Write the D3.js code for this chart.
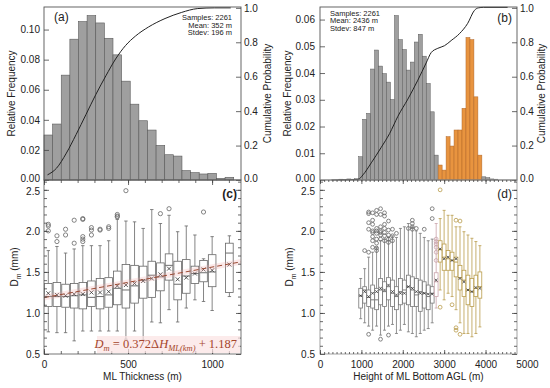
<!DOCTYPE html>
<html><head><meta charset="utf-8">
<script src="https://cdn.jsdelivr.net/npm/d3@7"></script>
<style>
body{margin:0;background:#fff}
svg text{font-family:"Liberation Sans",Arial,Helvetica,sans-serif;fill:#222}
</style>
</head><body>
<svg id="chart" width="550" height="388"></svg>
<script>
// ---------------- DATA ----------------
// Panel (a): ML thickness histogram (bin width ~51.3 m starting at 0)
const histA_binWidth = 51.3;
const histA_freq = [0.0299,0.0372,0.0697,0.0936,0.1053,0.1093,0.1044,0.0942,0.0832,0.0657,0.0504,0.0394,0.0332,0.0230,0.0168,0.0159,0.0062,0.0049,0.0040,0.0044,0.0011,0.0018];
const cumA_x = [21,74,133,191,250,309,368,426,485,544,622,720,817,915,1013,1111];
const cumA_p = [0.03,0.068,0.156,0.264,0.381,0.498,0.605,0.703,0.781,0.836,0.889,0.938,0.973,0.996,1.0,1.0];
const statsA = ["Samples: 2261","Mean: 352 m","Stdev: 196 m"];

// Panel (b): height of ML bottom histogram (bin width ~96 m, first main bin at 935 m)
const histB_binStart = 935, histB_binWidth = 96;
const histB_leftTail = [0.0003,0.0002,0.0004,0.0003,0.0005];        // bins -5..-1
const histB_gray = [0.0087,0.0227,0.0249,0.0415,0.0486,0.0426,0.0398,0.0366,0.0301,0.0615,0.0525,0.0488,0.0411,0.0441,0.0516,0.0545,0.0463,0.0361,0.0255,0.0093];
const histB_orange = [0.0056,0.0037,0.0162,0.0127,0.0187,0.0187,0.0268,0.0533,0.0525,0.0311,0.0093];
const histB_rightTail = [0.0012,0.0009,0.0004,0.0003];
const cumB_x = [277,918,1039,1240,1481,1682,1882,2123,2364,2565,2686,2846,3007,3169,3369,3569,3730,3827,3950,4533];
const cumB_p = [0,0.003,0.03,0.10,0.19,0.27,0.37,0.47,0.58,0.68,0.74,0.765,0.78,0.81,0.85,0.91,0.985,1.0,1.003,1.003];
const statsB = ["Samples: 2261","Mean: 2436 m","Stdev: 847 m"];

// Panel (c): Dm box plots per ML-thickness bin (index into 51.3 m bins)
const boxC_bin  = [0,1,2,3,4,5,6,7,8,9,10,11,12,13,14,15,16,17,18,19,21];
const boxC_wlo  = [0.77,0.76,0.76,0.66,0.78,0.78,0.78,0.78,0.78,0.68,0.78,0.67,0.89,0.88,1.04,0.89,1.06,1.16,1.14,1.03,1.20];
const boxC_q1   = [1.08,1.08,1.07,1.06,1.05,1.08,1.05,1.07,1.10,1.06,1.12,1.18,1.19,1.27,1.40,1.16,1.24,1.36,1.38,1.32,1.25];
const boxC_med  = [1.20,1.20,1.20,1.21,1.22,1.19,1.20,1.22,1.30,1.28,1.33,1.40,1.46,1.44,1.58,1.35,1.45,1.48,1.49,1.50,1.73];
const boxC_q3   = [1.36,1.37,1.35,1.36,1.37,1.39,1.42,1.43,1.51,1.59,1.58,1.57,1.63,1.61,1.72,1.63,1.65,1.57,1.64,1.71,1.85];
const boxC_whi  = [1.76,1.81,1.73,1.78,1.82,1.82,1.82,1.88,2.14,2.12,2.11,2.03,2.26,2.09,2.19,1.99,2.06,1.95,1.66,1.93,1.94];
const boxC_mean = [1.24,1.22,1.21,1.23,1.23,1.25,1.25,1.26,1.33,1.34,1.36,1.39,1.42,1.47,1.54,1.41,1.43,1.48,1.53,1.52,1.59];
const outC_bin = [0,0,0,1,1,2,2,3,3,4,4,4,4,4,5,5,5,6,6,7,7,8,8,8,9,13,14,18];
const outC_val = [2.08,2.06,2.00,1.94,1.87,2.02,1.95,2.13,1.85,2.15,2.14,1.93,1.90,1.87,2.04,2.01,1.95,2.02,2.01,2.05,2.03,2.20,2.18,2.17,2.49,2.21,2.27,2.23];
const fitSlope = 0.372, fitIntercept = 1.187;   // Dm = 0.372*dH(km) + 1.187

// Panel (d): Dm box plots per ML-bottom-height bin (index into 96 m bins from 935 m)
const boxD_bin   = [0,1,2,3,4,5,6,7,8,9,10,11,12,13,14,15,16,17,18,19,20,21,22,23,24,25,26,27,28,29,30];
const boxD_group = ["g","g","g","g","g","g","g","g","g","g","g","g","g","g","g","g","g","g","g","t","o","o","o","o","o","o","o","o","o","o","o"];
const boxD_wlo  = [0.93,0.88,0.84,0.79,0.84,0.73,0.79,0.84,0.86,0.75,0.79,0.86,0.77,0.75,0.71,0.75,0.79,0.81,0.88,1.06, 1.28,1.16,1.24,1.20,1.04,0.88,0.75,0.75,0.71,0.75,0.83];
const boxD_q1   = [1.06,1.12,1.08,1.06,1.04,1.10,1.08,1.16,1.08,1.04,1.10,1.12,1.10,1.08,1.08,1.02,1.06,1.04,1.12,1.20, 1.62,1.52,1.52,1.52,1.44,1.28,1.20,1.10,1.08,1.20,1.18];
const boxD_med  = [1.21,1.28,1.19,1.16,1.16,1.28,1.26,1.32,1.24,1.20,1.26,1.28,1.32,1.28,1.22,1.26,1.24,1.20,1.24,1.38, 1.77,1.68,1.66,1.64,1.62,1.43,1.40,1.28,1.26,1.30,1.32];
const boxD_q3   = [1.30,1.32,1.28,1.34,1.30,1.42,1.38,1.43,1.40,1.32,1.42,1.40,1.46,1.44,1.42,1.40,1.38,1.34,1.32,1.49, 1.88,1.84,1.76,1.74,1.68,1.58,1.52,1.46,1.42,1.46,1.50];
const boxD_whi  = [1.42,1.54,1.68,1.74,1.80,1.88,1.90,1.92,1.94,1.92,2.03,2.05,2.09,2.05,2.00,1.97,1.92,1.88,1.90,2.09, 2.15,2.25,2.19,2.19,2.05,2.05,1.99,1.95,1.91,1.87,1.82];
const boxD_mean = [1.21,1.26,1.20,1.24,1.26,1.30,1.28,1.34,1.26,1.22,1.24,1.24,1.32,1.30,1.26,1.24,1.24,1.23,1.23,1.40, 1.78,1.66,1.68,1.64,1.66,1.42,1.38,1.28,1.26,1.31,1.30];
const outD_bin = [1,2,2,2,2,2,2,3,3,3,3,3,3,3,3,4,4,4,4,4,4,4,4,4,5,5,5,5,5,5,5,5,6,6,6,6,6,6,6,7,7,7,7,7,7,8,8,8,9,12,13,13,13,13,14,16,18,18,19,19,19,19,19,19,20,20,23,24,24,24,25,25];
const outD_val = [1.76,1.74,2.23,2.21,2.10,2.02,0.74,2.22,2.13,2.08,2.00,1.98,1.93,1.88,1.80,2.25,2.20,2.03,2.00,1.97,1.90,1.85,1.79,1.76,2.27,2.20,2.05,2.00,1.98,1.95,1.90,0.68,2.22,2.18,2.08,2.03,1.98,1.94,1.88,2.12,2.01,1.95,1.90,1.86,0.73,2.02,1.94,1.88,1.97,2.03,2.13,2.09,2.05,2.02,2.03,2.02,2.27,2.15,1.90,1.87,1.84,1.80,1.74,1.64,2.50,1.07,1.10,2.13,0.82,0.79,2.12,0.74];

// tick labels
const ticksA_y = [0,0.02,0.04,0.06,0.08,0.10];
const ticksB_y = [0,0.01,0.02,0.03,0.04,0.05,0.06];
const ticksCum = [0,0.2,0.4,0.6,0.8,1.0];
const ticksC_x = [0,500,1000];
const ticksD_x = [0,1000,2000,3000,4000,5000];
const ticksDm = [0.5,1.0,1.5,2.0,2.5];

// ---------------- LAYOUT ----------------
const svg = d3.select("#chart");
const A = {l:44, r:241, t:7, b:180};
const C = {l:44, r:241, t:180, b:354};
const B = {l:320, r:517, t:7, b:180};
const D = {l:320, r:517, t:180, b:354};

const xA = d3.scaleLinear().domain([0,1172]).range([A.l,A.r]);
const yA = d3.scaleLinear().domain([0,0.115]).range([A.b,A.t]);
const yCumA = d3.scaleLinear().domain([0,1.005]).range([A.b,A.t]);
const xB = d3.scaleLinear().domain([0,4760]).range([B.l,B.r]);
const yB = d3.scaleLinear().domain([0,0.0647]).range([B.b,B.t]);
const yCumB = d3.scaleLinear().domain([0,1.005]).range([B.b,B.t]);
const yC = d3.scaleLinear().domain([0.5,2.62]).range([C.b,C.t]);
const yD = yC.copy();

const fs = 10;
const intFmt = d3.format("d");
function styleAxis(g){ g.selectAll("path.domain").remove(); g.selectAll(".tick line").attr("stroke","#444").attr("stroke-width",0.8);
  g.selectAll("text").attr("font-size",fs).attr("fill","#222"); return g; }
function frame(P, color, dash){ svg.append("rect").attr("x",P.l).attr("y",P.t).attr("width",P.r-P.l).attr("height",P.b-P.t)
  .attr("fill","none").attr("stroke",color).attr("stroke-width",0.9).attr("stroke-dasharray",dash||null); }
function range(a,b,s){ const o=[]; for(let v=a; v<=b+1e-9; v+=s) o.push(+v.toFixed(6)); return o; }

// ---------------- PANEL (a) ----------------
svg.append("g").selectAll("rect").data(histA_freq).join("rect")
  .attr("x",(d,i)=>xA(i*histA_binWidth)).attr("width",(d,i)=>xA((i+1)*histA_binWidth)-xA(i*histA_binWidth))
  .attr("y",d=>yA(d)).attr("height",d=>yA(0)-yA(d))
  .attr("fill","#9f9f9f").attr("stroke","#5a5a5a").attr("stroke-width",0.6);
svg.append("path").datum(cumA_x.map((x,i)=>[x,cumA_p[i]]))
  .attr("d",d3.line().x(d=>xA(d[0])).y(d=>yCumA(d[1])).curve(d3.curveMonotoneX))
  .attr("fill","none").attr("stroke","#222").attr("stroke-width",1);
frame(A,"#555");
const axAL = styleAxis(svg.append("g").attr("transform",`translate(${A.l},0)`).call(d3.axisLeft(yA).tickValues(ticksA_y).tickFormat(d3.format(".2f")).tickSize(-5).tickPadding(4)));
axAL.selectAll(".tick").filter(d=>d===0).select("text").attr("dy","0.1em");
const axAR = styleAxis(svg.append("g").attr("transform",`translate(${A.r},0)`).call(d3.axisRight(yCumA).tickValues(ticksCum).tickFormat(d3.format(".1f")).tickSize(-5).tickPadding(3)));
axAR.selectAll(".tick").filter(d=>d===0).select("text").attr("dy","0.1em");
statsA.forEach((s,i)=>svg.append("text").attr("x",232).attr("y",20+i*7.6).attr("text-anchor","end").attr("font-size",7.5).text(s));
svg.append("text").attr("x",54).attr("y",21).attr("font-size",12).text("(a)");
svg.append("text").attr("transform",`translate(15,${(A.t+A.b)/2}) rotate(-90)`).attr("text-anchor","middle").attr("font-size",fs).text("Relative Frequency");
svg.append("text").attr("transform",`translate(271,${(A.t+A.b)/2}) rotate(-90)`).attr("text-anchor","middle").attr("font-size",fs).text("Cumulative Probability");

// ---------------- PANEL (b) ----------------
const gB = svg.append("g");
function barsB(vals, k0, fill, stroke){
  gB.append("g").selectAll("rect").data(vals).join("rect")
   .attr("x",(d,i)=>xB(histB_binStart+(k0+i)*histB_binWidth))
   .attr("width",(d,i)=>xB(histB_binStart+(k0+i+1)*histB_binWidth)-xB(histB_binStart+(k0+i)*histB_binWidth))
   .attr("y",d=>yB(d)).attr("height",d=>yB(0)-yB(d))
   .attr("fill",fill).attr("stroke",stroke).attr("stroke-width",0.5);
}
barsB(histB_leftTail,-histB_leftTail.length,"#9f9f9f","#666");
barsB(histB_gray,0,"#9f9f9f","#5a5a5a");
barsB(histB_orange,histB_gray.length,"#e8943f","#b0672a");
barsB(histB_rightTail,histB_gray.length+histB_orange.length,"#9f9f9f","#666");
svg.append("path").datum(cumB_x.map((x,i)=>[x,cumB_p[i]]))
  .attr("d",d3.line().x(d=>xB(d[0])).y(d=>yCumB(d[1])).curve(d3.curveMonotoneX))
  .attr("fill","none").attr("stroke","#222").attr("stroke-width",1);
frame(B,"#555");
const axBL = styleAxis(svg.append("g").attr("transform",`translate(${B.l},0)`).call(d3.axisLeft(yB).tickValues(ticksB_y).tickFormat(d3.format(".2f")).tickSize(-5).tickPadding(5)));
axBL.selectAll(".tick").filter(d=>d===0).select("text").attr("dy","0.1em");
const axBR = styleAxis(svg.append("g").attr("transform",`translate(${B.r},0)`).call(d3.axisRight(yCumB).tickValues(ticksCum).tickFormat(d3.format(".1f")).tickSize(-5).tickPadding(3)));
axBR.selectAll(".tick").filter(d=>d===0).select("text").attr("dy","0.1em");
statsB.forEach((s,i)=>svg.append("text").attr("x",330).attr("y",15.5+i*7.6).attr("font-size",7.5).text(s));
svg.append("text").attr("x",512).attr("y",21.5).attr("text-anchor","end").attr("font-size",12).text("(b)");
svg.append("text").attr("transform",`translate(291,${(B.t+B.b)/2}) rotate(-90)`).attr("text-anchor","middle").attr("font-size",fs).text("Relative Frequency");
svg.append("text").attr("transform",`translate(545,${(B.t+B.b)/2}) rotate(-90)`).attr("text-anchor","middle").attr("font-size",fs).text("Cumulative Probability");

// ---------------- box helper ----------------
function drawBox(g, x, y, lo, q1, med, q3, hi, mean, hw, col, sw){
  const cap = Math.max(1.5, hw*0.45);
  g.append("line").attr("x1",x).attr("x2",x).attr("y1",y(lo)).attr("y2",y(q1)).attr("stroke",col).attr("stroke-width",sw);
  g.append("line").attr("x1",x).attr("x2",x).attr("y1",y(q3)).attr("y2",y(hi)).attr("stroke",col).attr("stroke-width",sw);
  g.append("line").attr("x1",x-cap).attr("x2",x+cap).attr("y1",y(lo)).attr("y2",y(lo)).attr("stroke",col).attr("stroke-width",sw);
  g.append("line").attr("x1",x-cap).attr("x2",x+cap).attr("y1",y(hi)).attr("y2",y(hi)).attr("stroke",col).attr("stroke-width",sw);
  g.append("rect").attr("x",x-hw).attr("y",y(q3)).attr("width",2*hw).attr("height",y(q1)-y(q3))
    .attr("fill","#fff").attr("fill-opacity",0.85).attr("stroke",col).attr("stroke-width",sw);
  g.append("line").attr("x1",x-hw).attr("x2",x+hw).attr("y1",y(med)).attr("y2",y(med)).attr("stroke",col).attr("stroke-width",sw*1.2);
  const m=y(mean), s=Math.min(2,hw*0.7);
  g.append("path").attr("d",`M${x-s},${m-s}L${x+s},${m+s}M${x-s},${m+s}L${x+s},${m-s}`).attr("stroke","#333").attr("stroke-width",0.8);
}

// ---------------- PANEL (c) ----------------
const gC = svg.append("g");
boxC_bin.forEach((b,i)=>{
  const x = xA((b+0.5)*histA_binWidth);
  drawBox(gC, x, yC, boxC_wlo[i], boxC_q1[i], boxC_med[i], boxC_q3[i], boxC_whi[i], boxC_mean[i], 3.8, "#666", 0.8);
});
gC.append("g").selectAll("circle").data(outC_bin).join("circle")
  .attr("cx",d=>xA((d+0.5)*histA_binWidth)).attr("cy",(d,i)=>yC(outC_val[i])).attr("r",2.1)
  .attr("fill","none").attr("stroke","#666").attr("stroke-width",0.8);
// fit band and line
const fitX = [0,1172];
const band = d3.area().x(d=>xA(d)).y0(d=>yC(fitSlope*d/1000+fitIntercept-0.035)).y1(d=>yC(fitSlope*d/1000+fitIntercept+0.035));
gC.append("path").datum(fitX).attr("d",band).attr("fill","#f0a8a8").attr("opacity",0.25);
gC.append("path").datum(fitX).attr("d",d3.line().x(d=>xA(d)).y(d=>yC(fitSlope*d/1000+fitIntercept)))
  .attr("stroke","#9c4a33").attr("stroke-width",1).attr("stroke-dasharray","5,3").attr("fill","none");
frame(C,"#666");
styleAxis(svg.append("g").attr("transform",`translate(0,${C.t})`).call(d3.axisTop(xA).tickValues(ticksC_x).tickSize(-5).tickFormat("")));
styleAxis(svg.append("g").attr("transform",`translate(0,${C.t})`).call(d3.axisTop(xA).tickValues(range(0,1100,100)).tickSize(-3).tickFormat("")));
styleAxis(svg.append("g").attr("transform",`translate(0,${C.b})`).call(d3.axisBottom(xA).tickValues(ticksC_x).tickFormat(intFmt).tickSize(-5).tickPadding(7)));
styleAxis(svg.append("g").attr("transform",`translate(0,${C.b})`).call(d3.axisBottom(xA).tickValues(range(0,1100,100)).tickSize(-3).tickFormat("")));
const axCL = styleAxis(svg.append("g").attr("transform",`translate(${C.l},0)`).call(d3.axisLeft(yC).tickValues(ticksDm).tickFormat(d3.format(".1f")).tickSize(-5).tickPadding(4)));
axCL.selectAll(".tick").filter(d=>d===2.5).select("text").attr("dy","0.45em");
styleAxis(svg.append("g").attr("transform",`translate(${C.l},0)`).call(d3.axisLeft(yC).tickValues(range(0.6,2.6,0.1)).tickSize(-3).tickFormat("")));
styleAxis(svg.append("g").attr("transform",`translate(${C.r},0)`).call(d3.axisRight(yC).tickValues(ticksDm).tickSize(-5).tickFormat("")));
styleAxis(svg.append("g").attr("transform",`translate(${C.r},0)`).call(d3.axisRight(yC).tickValues(range(0.6,2.6,0.1)).tickSize(-3).tickFormat("")));
svg.append("text").attr("x",237).attr("y",198).attr("text-anchor","end").attr("font-size",12).attr("font-weight","bold").text("(c)");
// equation
svg.append("rect").attr("x",97).attr("y",336).attr("width",143).attr("height",17).attr("fill","#fbe2e2").attr("opacity",0.7);
const eq = svg.append("text").attr("x",237).attr("y",348).attr("text-anchor","end")
  .style("font-family","'Liberation Serif','DejaVu Serif',serif").attr("font-size",12.5).style("fill","#a5452c");
eq.append("tspan").attr("font-style","italic").style("fill","#a5452c").text("D");
eq.append("tspan").attr("font-style","italic").attr("font-size",8.5).attr("dy",3).style("fill","#a5452c").text("m");
eq.append("tspan").attr("dy",-3).style("fill","#a5452c").text(" = 0.372\u0394");
eq.append("tspan").attr("font-style","italic").style("fill","#a5452c").text("H");
eq.append("tspan").attr("font-style","italic").attr("font-size",8.5).attr("dy",3).style("fill","#a5452c").text("ML(km)");
eq.append("tspan").attr("dy",-3).style("fill","#a5452c").text(" + 1.187");
function dmLabel(x){
  const t = svg.append("text").attr("transform",`translate(${x},${(C.t+C.b)/2}) rotate(-90)`).attr("text-anchor","middle").attr("font-size",fs);
  t.append("tspan").text("D"); t.append("tspan").attr("font-size",7).attr("dy",2.5).text("m"); t.append("tspan").attr("dy",-2.5).text(" (mm)");
}
dmLabel(18);
svg.append("text").attr("x",(C.l+C.r)/2).attr("y",380).attr("text-anchor","middle").attr("font-size",fs).text("ML Thickness (m)");

// ---------------- PANEL (d) ----------------
const gD = svg.append("g");
const colD = {g:"#777", t:"#c9a2aa", o:"#b99c4b"};
const xD = k => xB(histB_binStart+(k+0.5)*histB_binWidth);
boxD_bin.forEach((k,i)=>{
  drawBox(gD, xD(k), yD, boxD_wlo[i], boxD_q1[i], boxD_med[i], boxD_q3[i], boxD_whi[i], boxD_mean[i], 1.9, colD[boxD_group[i]], 0.8);
});
gD.append("g").selectAll("circle").data(outD_bin).join("circle")
  .attr("cx",d=>xD(d)).attr("cy",(d,i)=>yD(outD_val[i])).attr("r",1.9)
  .attr("fill","none").attr("stroke",d=>{const g=boxD_group[boxD_bin.indexOf(d)]; return g==="g"?"#666":colD[g];}).attr("stroke-width",0.8);
frame(D,"#999");
styleAxis(svg.append("g").attr("transform",`translate(0,${D.t})`).call(d3.axisTop(xB).tickValues([0,1000,2000,3000,4000]).tickSize(-4).tickFormat("")));
styleAxis(svg.append("g").attr("transform",`translate(0,${D.t})`).call(d3.axisTop(xB).tickValues(range(0,4700,100)).tickSize(-2).tickFormat("")));
const axD = svg.append("g").attr("transform",`translate(0,${D.b})`).call(d3.axisBottom(xB).tickValues(ticksD_x).tickFormat(intFmt).tickSize(-4).tickPadding(7));
styleAxis(axD); axD.selectAll(".tick").filter(d=>d>4760).select("line").remove();
styleAxis(svg.append("g").attr("transform",`translate(0,${D.b})`).call(d3.axisBottom(xB).tickValues(range(0,4700,100)).tickSize(-2).tickFormat("")));
const axDL = styleAxis(svg.append("g").attr("transform",`translate(${D.l},0)`).call(d3.axisLeft(yD).tickValues(ticksDm).tickFormat(d3.format(".1f")).tickSize(-5).tickPadding(5)));
axDL.selectAll(".tick").filter(d=>d===2.5).select("text").attr("dy","0.45em");
styleAxis(svg.append("g").attr("transform",`translate(${D.l},0)`).call(d3.axisLeft(yD).tickValues(range(0.6,2.6,0.1)).tickSize(-3).tickFormat("")));
styleAxis(svg.append("g").attr("transform",`translate(${D.r},0)`).call(d3.axisRight(yD).tickValues(ticksDm).tickSize(-5).tickFormat("")));
styleAxis(svg.append("g").attr("transform",`translate(${D.r},0)`).call(d3.axisRight(yD).tickValues(range(0.6,2.6,0.1)).tickSize(-3).tickFormat("")));
svg.append("text").attr("x",512).attr("y",198).attr("text-anchor","end").attr("font-size",12).text("(d)");
dmLabel(293);
svg.append("text").attr("x",(D.l+D.r)/2).attr("y",380).attr("text-anchor","middle").attr("font-size",fs).text("Height of ML Bottom AGL (m)");
</script>
</body></html>
